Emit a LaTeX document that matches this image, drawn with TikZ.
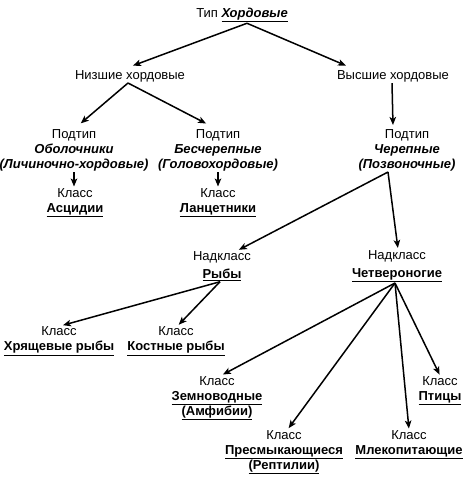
\documentclass[tikz,border=0pt]{standalone}
\usepackage{fontspec}
\setmainfont{Liberation Sans}
\usetikzlibrary{arrows.meta,positioning}

\begin{document}
\begin{tikzpicture}[x=1pt,y=-1pt]

\tikzset{taxon/.style={align=center,inner sep=1pt,font=\fontsize{13}{15}\selectfont},
         link/.style={-{Stealth[length=8pt,width=6.5pt,inset=2pt]},line width=1.5pt,shorten >=1pt}}

\useasboundingbox (0,0) rectangle (473,495);

\node[taxon] (type) at (242,15) {Тип \underline{\textbf{\textit{Хордовые}}}};

\node[taxon] (lower) at (130,76) {Низшие хордовые};
\node[taxon] (higher) at (393,76) {Высшие хордовые};

\node[taxon] (tunic) at (74,150) {Подтип\\ \textbf{\textit{Оболочники}}\\ \textbf{\textit{(Личиночно-хордовые)}}};
\node[taxon] (acran) at (218,150) {Подтип\\ \textbf{\textit{Бесчерепные}}\\ \textbf{\textit{(Головохордовые)}}};
\node[taxon] (cran) at (407,150) {Подтип\\ \textbf{\textit{Черепные}}\\ \textbf{\textit{(Позвоночные)}}};

\node[taxon] (ascid) at (75,203) {Класс\\ \underline{\textbf{Асцидии}}};
\node[taxon] (lancet) at (218,203) {Класс\\ \underline{\textbf{Ланцетники}}};

\node[taxon] (fish) at (222,266) {Надкласс\\[3pt] \underline{\textbf{Рыбы}}};
\node[taxon] (tetra) at (397,266) {Надкласс\\[3pt] \underline{\textbf{Четвероногие}}};

\node[taxon] (cartil) at (59,341) {Класс\\ \underline{\textbf{Хрящевые рыбы}}};
\node[taxon] (bony) at (176,341) {Класс\\ \underline{\textbf{Костные рыбы}}};

\node[taxon] (amphib) at (217,398) {Класс\\ \underline{\textbf{Земноводные}}\\ \underline{\textbf{(Амфибии)}}};
\node[taxon] (birds) at (440,391) {Класс\\ \underline{\textbf{Птицы}}};
\node[taxon] (rept) at (284,452) {Класс\\ \underline{\textbf{Пресмыкающиеся}}\\ \underline{\textbf{(Рептилии)}}};
\node[taxon] (mammal) at (409,445) {Класс\\ \underline{\textbf{Млекопитающие}}};

\draw[link] ([xshift=5pt]type.south) -- ([xshift=2pt,yshift=3pt]lower.north);
\draw[link] ([xshift=5pt]type.south) -- ([xshift=11pt,yshift=3pt]higher.north west);

\draw[link] ([xshift=-2pt]lower.south) -- ([xshift=6pt,yshift=4pt]tunic.north);
\draw[link] ([xshift=-2pt]lower.south) -- ([xshift=-11pt,yshift=4pt]acran.north);
\draw[link] ([xshift=-1pt]higher.south) -- ([yshift=2pt]higher.south |- cran.north);

\draw[link] (tunic.south) -- (tunic.south |- ascid.north);
\draw[link] (acran.south) -- (acran.south |- lancet.north);

\draw[link] ([xshift=-19pt]cran.south) -- ([xshift=16pt]fish.north);
\draw[link] ([xshift=-19pt]cran.south) -- ([xshift=1pt]tetra.north);

\draw[link] ([xshift=-2pt]fish.south) -- ([xshift=3pt]cartil.north);
\draw[link] ([xshift=-2pt]fish.south) -- ([xshift=2pt]bony.north);

\draw[link] ([xshift=-2pt]tetra.south) -- ([xshift=5pt]amphib.north);
\draw[link] ([xshift=-2pt]tetra.south) -- ([xshift=4pt]rept.north);
\draw[link] ([xshift=-2pt]tetra.south) -- (mammal.north);
\draw[link] ([xshift=-2pt]tetra.south) -- (birds.north);

\end{tikzpicture}
\end{document}
